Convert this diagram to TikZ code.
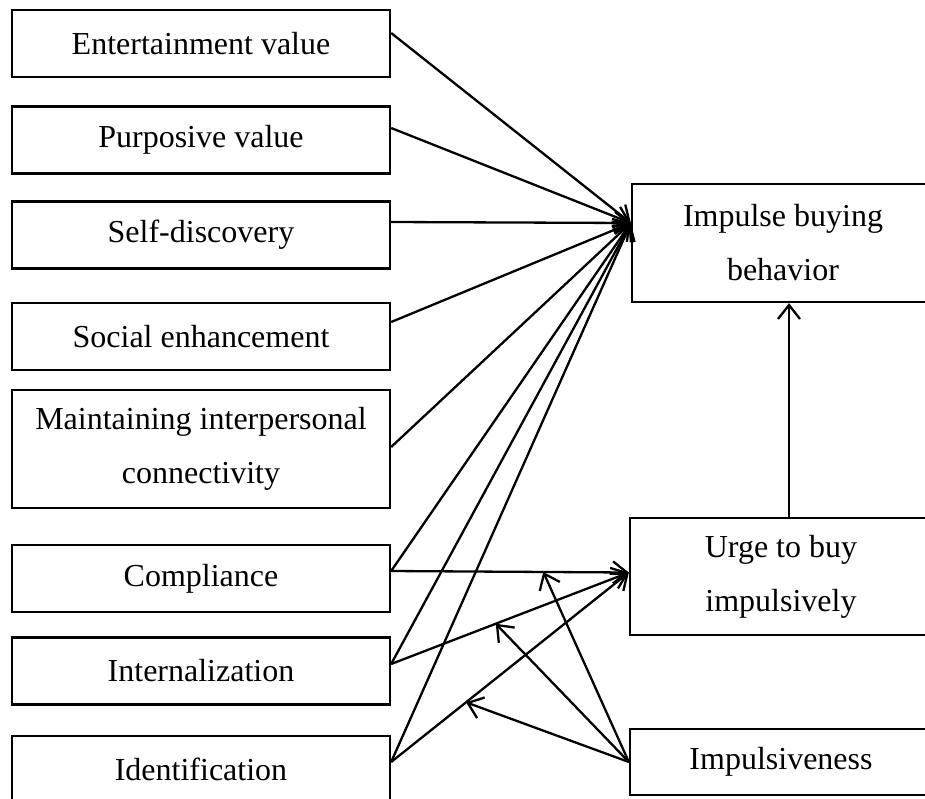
\documentclass[tikz,border=0pt]{standalone}
\usepackage{fontspec}
\setmainfont{Liberation Serif}
\usetikzlibrary{arrows.meta}

\begin{document}
\begin{tikzpicture}
		[x=1pt,y=-1pt,line width=2.3pt,
		every node/.style={draw,rectangle,align=center,font=\fontsize{32}{54}\selectfont},
		var/.style={minimum width=378pt,minimum height=67pt},
		dv/.style={minimum width=302pt,minimum height=118pt},
		edge/.style={-{Straight Barb[length=14pt,width=22pt]}}]
		\useasboundingbox (0,0) rectangle (925,798);
		\clip (0,0) rectangle (925,798);
		\node[var] (ent) at (201,43.5) {Entertainment value};
		\node[var] (pur) at (201,140) {Purposive value};
		\node[var] (self) at (201,235) {Self-discovery};
		\node[var] (soc) at (201,336.5) {Social enhancement};
		\node[var,minimum height=118pt] (main) at (201,449) {Maintaining interpersonal\\connectivity};
		\node[var] (comp) at (201,578.5) {Compliance};
		\node[var] (int) at (201,671) {Internalization};
		\node[var] (iden) at (201,769.5) {Identification};
		\node[dv] (ibb) at (783,243) {Impulse buying\\behavior};
		\node[dv,minimum height=117pt] (urge) at (781,576.5) {Urge to buy\\impulsively};
		\node[dv,minimum height=66pt] (imp) at (781,762) {Impulsiveness};
		
		\foreach \n/\dy in {ent/10.5,pur/12,self/13,soc/14.5,main/2,comp/7.5,int/7,iden/7.5}
		\coordinate (\n-o) at ([yshift=\dy pt]\n.east);
		\coordinate (ibb-in) at ([yshift=20pt]ibb.west);
		\coordinate (urge-in) at ([yshift=4pt]urge.west);
		
		\foreach \from in {ent,pur,self,soc,main,comp,int,iden}
		\draw[edge] (\from-o) -- (ibb-in);
		\draw[edge] (comp-o) -- coordinate[pos=0.64] (m1) (urge-in);
		\draw[edge] (int-o) -- coordinate[pos=0.44] (m2) (urge-in);
		\draw[edge] (iden-o) -- coordinate[pos=0.315] (m3) (urge-in);
		\foreach \to in {m1,m2,m3}
		\draw[edge] (imp.west) -- (\to);
		\draw[edge] ([xshift=8pt]urge.north) -- ([xshift=8pt]urge.north |- ibb.south);
		\end{tikzpicture}
\end{document}
